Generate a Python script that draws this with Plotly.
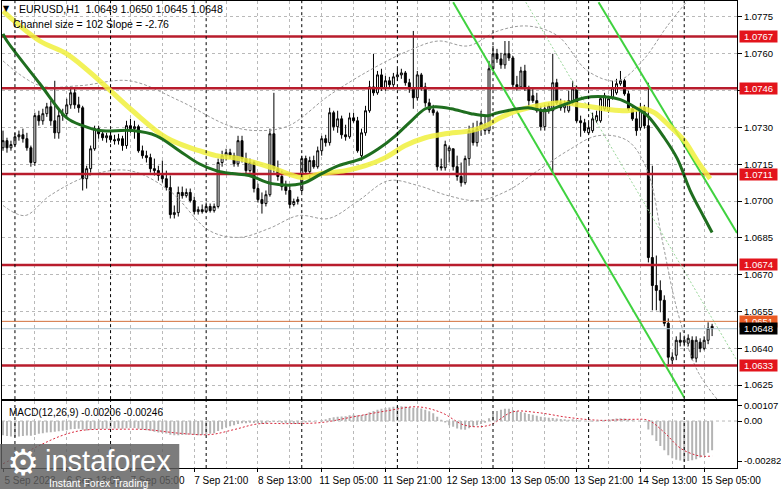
import plotly.graph_objects as go
from plotly.subplots import make_subplots

# ---------------- data ----------------
x_tick_idx = [0, 16, 32, 48, 64, 80, 96, 112, 128, 144, 160, 176]
x_tick_text = ["5 Sep 2023", "6 Sep 13:00", "7 Sep 05:00", "7 Sep 21:00", "8 Sep 13:00",
               "11 Sep 05:00", "11 Sep 21:00", "12 Sep 13:00", "13 Sep 05:00",
               "13 Sep 21:00", "14 Sep 13:00", "15 Sep 05:00"]
grid_idx = list(range(0, 185, 8))
day_start_idx = [3, 27, 51, 75, 99, 123, 147, 171]
price_ticks = [1.0625, 1.0640, 1.0655, 1.0670, 1.0685, 1.0700, 1.0715, 1.0730, 1.0745, 1.0760, 1.0775]

opens = [
    1.07217, 1.07246, 1.07217, 1.07230, 1.07262, 1.07270, 1.07254, 1.07217, 1.07157, 1.07348,
    1.07327, 1.07356, 1.07384, 1.07327, 1.07278, 1.07348, 1.07356, 1.07392, 1.07441, 1.07392,
    1.07380, 1.07091, 1.07132, 1.07213, 1.07295, 1.07274, 1.07258, 1.07266, 1.07250, 1.07246,
    1.07254, 1.07226, 1.07307, 1.07295, 1.07303, 1.07205, 1.07185, 1.07177, 1.07132, 1.07124,
    1.07104, 1.07091, 1.07055, 1.06945, 1.06953, 1.07035, 1.07022, 1.07035, 1.07002, 1.06957,
    1.06965, 1.06957, 1.06978, 1.06961, 1.06978, 1.07157, 1.07185, 1.07197, 1.07185, 1.07152,
    1.07246, 1.07173, 1.07124, 1.07157, 1.07051, 1.07006, 1.06990, 1.07026, 1.07274, 1.07132,
    1.07100, 1.07059, 1.07043, 1.06986, 1.06998, 1.07043, 1.07173, 1.07120, 1.07165, 1.07140,
    1.07205, 1.07254, 1.07238, 1.07360, 1.07303, 1.07335, 1.07270, 1.07262, 1.07339, 1.07327,
    1.07185, 1.07278, 1.07368, 1.07465, 1.07441, 1.07514, 1.07461, 1.07490, 1.07474, 1.07506,
    1.07514, 1.07522, 1.07482, 1.07457, 1.07421, 1.07514, 1.07465, 1.07400, 1.07372, 1.07360,
    1.07140, 1.07136, 1.07205, 1.07213, 1.07140, 1.07100, 1.07075, 1.07173, 1.07287, 1.07238,
    1.07295, 1.07287, 1.07287, 1.07539, 1.07600, 1.07579, 1.07555, 1.07600, 1.07583, 1.07474,
    1.07465, 1.07530, 1.07461, 1.07429, 1.07409, 1.07368, 1.07303, 1.07368, 1.07368, 1.07482,
    1.07400, 1.07380, 1.07368, 1.07400, 1.07457, 1.07327, 1.07319, 1.07278, 1.07287, 1.07327,
    1.07327, 1.07376, 1.07368, 1.07421, 1.07441, 1.07478, 1.07490, 1.07437, 1.07376, 1.07335,
    1.07299, 1.07380, 1.07307, 1.06770, 1.06656, 1.06636, 1.06596, 1.06502, 1.06352, 1.06372,
    1.06433, 1.06425, 1.06421, 1.06433, 1.06360, 1.06425, 1.06400, 1.06433, 1.0649]
highs = [
    1.07287, 1.07258, 1.07246, 1.07278, 1.07287, 1.07295, 1.07278, 1.07226, 1.07360, 1.07368,
    1.07376, 1.07400, 1.07409, 1.07490, 1.07368, 1.07376, 1.07417, 1.07457, 1.07457, 1.07425,
    1.07388, 1.07144, 1.07226, 1.07307, 1.07307, 1.07287, 1.07278, 1.07287, 1.07270, 1.07274,
    1.07266, 1.07327, 1.07335, 1.07327, 1.07311, 1.07226, 1.07205, 1.07193, 1.07173, 1.07144,
    1.07165, 1.07124, 1.07104, 1.06982, 1.07059, 1.07059, 1.07051, 1.07051, 1.07018, 1.06978,
    1.06986, 1.06994, 1.06990, 1.06990, 1.07173, 1.07205, 1.07213, 1.07213, 1.07197, 1.07266,
    1.07266, 1.07197, 1.07173, 1.07165, 1.07071, 1.07035, 1.07043, 1.07295, 1.07441, 1.07165,
    1.07124, 1.07083, 1.07063, 1.07010, 1.07018, 1.07185, 1.07185, 1.07181, 1.07185, 1.07222,
    1.07266, 1.07270, 1.07380, 1.07368, 1.07368, 1.07348, 1.07311, 1.07360, 1.07360, 1.07343,
    1.07295, 1.07388, 1.07490, 1.07600, 1.07530, 1.07539, 1.07510, 1.07506, 1.07522, 1.07539,
    1.07539, 1.07530, 1.07498, 1.07693, 1.07530, 1.07522, 1.07482, 1.07417, 1.07392, 1.07368,
    1.07173, 1.07246, 1.07226, 1.07213, 1.07185, 1.07157, 1.07185, 1.07307, 1.07319, 1.07327,
    1.07368, 1.07348, 1.07571, 1.07632, 1.07620, 1.07604, 1.07652, 1.07652, 1.07591, 1.07510,
    1.07547, 1.07555, 1.07470, 1.07457, 1.07441, 1.07388, 1.07392, 1.07400, 1.07600, 1.07498,
    1.07417, 1.07409, 1.07449, 1.07490, 1.07470, 1.07348, 1.07335, 1.07319, 1.07360, 1.07368,
    1.07425, 1.07441, 1.07429, 1.07490, 1.07498, 1.07530, 1.07498, 1.07449, 1.07388, 1.07368,
    1.07400, 1.07392, 1.07482, 1.07144, 1.06778, 1.06677, 1.06616, 1.06522, 1.06384, 1.06449,
    1.06465, 1.06449, 1.06457, 1.06449, 1.06449, 1.06441, 1.06449, 1.06506, 1.0650]
lows = [
    1.07205, 1.07197, 1.07205, 1.07222, 1.07246, 1.07238, 1.07205, 1.07140, 1.07144, 1.07307,
    1.07311, 1.07343, 1.07307, 1.07254, 1.07254, 1.07327, 1.07335, 1.07376, 1.07376, 1.07360,
    1.07043, 1.07051, 1.07116, 1.07205, 1.07254, 1.07246, 1.07238, 1.07238, 1.07230, 1.07230,
    1.07205, 1.07213, 1.07278, 1.07254, 1.07197, 1.07173, 1.07157, 1.07116, 1.07104, 1.07083,
    1.07075, 1.07043, 1.06929, 1.06929, 1.06937, 1.07010, 1.07014, 1.06994, 1.06945, 1.06945,
    1.06949, 1.06953, 1.06953, 1.06953, 1.06970, 1.07140, 1.07165, 1.07173, 1.07140, 1.07140,
    1.07157, 1.07108, 1.07116, 1.07035, 1.06994, 1.06949, 1.06978, 1.07018, 1.07116, 1.07083,
    1.07043, 1.07026, 1.06970, 1.06978, 1.06986, 1.07035, 1.07108, 1.07091, 1.07132, 1.07132,
    1.07185, 1.07222, 1.07226, 1.07287, 1.07278, 1.07254, 1.07246, 1.07254, 1.07319, 1.07197,
    1.07165, 1.07266, 1.07360, 1.07429, 1.07433, 1.07449, 1.07449, 1.07457, 1.07465, 1.07490,
    1.07498, 1.07470, 1.07441, 1.07376, 1.07409, 1.07449, 1.07384, 1.07360, 1.07348, 1.07124,
    1.07124, 1.07124, 1.07157, 1.07124, 1.07083, 1.07059, 1.07067, 1.07144, 1.07226, 1.07222,
    1.07266, 1.07270, 1.07274, 1.07530, 1.07563, 1.07539, 1.07539, 1.07571, 1.07461, 1.07449,
    1.07457, 1.07449, 1.07376, 1.07400, 1.07360, 1.07287, 1.07287, 1.07356, 1.07116, 1.07392,
    1.07368, 1.07360, 1.07360, 1.07392, 1.07319, 1.07262, 1.07278, 1.07270, 1.07278, 1.07319,
    1.07319, 1.07368, 1.07360, 1.07413, 1.07433, 1.07470, 1.07429, 1.07368, 1.07327, 1.07266,
    1.07287, 1.07295, 1.06750, 1.06555, 1.06555, 1.06547, 1.06490, 1.06335, 1.06335, 1.06352,
    1.06408, 1.06408, 1.06408, 1.06352, 1.06343, 1.06384, 1.06392, 1.06417, 1.0645]
closes = [
    1.07246, 1.07217, 1.07230, 1.07262, 1.07270, 1.07254, 1.07217, 1.07157, 1.07348, 1.07327,
    1.07356, 1.07384, 1.07327, 1.07278, 1.07348, 1.07356, 1.07392, 1.07441, 1.07392, 1.07380,
    1.07091, 1.07132, 1.07213, 1.07295, 1.07274, 1.07258, 1.07266, 1.07250, 1.07246, 1.07254,
    1.07226, 1.07307, 1.07295, 1.07303, 1.07205, 1.07185, 1.07177, 1.07132, 1.07124, 1.07104,
    1.07091, 1.07055, 1.06945, 1.06953, 1.07035, 1.07022, 1.07035, 1.07002, 1.06957, 1.06965,
    1.06957, 1.06978, 1.06961, 1.06978, 1.07157, 1.07185, 1.07197, 1.07185, 1.07152, 1.07246,
    1.07173, 1.07124, 1.07157, 1.07051, 1.07006, 1.06990, 1.07026, 1.07274, 1.07132, 1.07100,
    1.07059, 1.07043, 1.06986, 1.06998, 1.07006, 1.07173, 1.07120, 1.07165, 1.07140, 1.07205,
    1.07254, 1.07238, 1.07360, 1.07303, 1.07335, 1.07270, 1.07262, 1.07339, 1.07327, 1.07205,
    1.07278, 1.07368, 1.07465, 1.07441, 1.07514, 1.07461, 1.07490, 1.07474, 1.07506, 1.07514,
    1.07522, 1.07482, 1.07457, 1.07421, 1.07514, 1.07465, 1.07400, 1.07372, 1.07360, 1.07140,
    1.07136, 1.07230, 1.07217, 1.07140, 1.07100, 1.07075, 1.07173, 1.07287, 1.07238, 1.07295,
    1.07319, 1.07311, 1.07539, 1.07600, 1.07579, 1.07555, 1.07600, 1.07583, 1.07474, 1.07465,
    1.07530, 1.07461, 1.07409, 1.07409, 1.07368, 1.07303, 1.07376, 1.07388, 1.07482, 1.07400,
    1.07380, 1.07392, 1.07409, 1.07457, 1.07327, 1.07319, 1.07287, 1.07299, 1.07335, 1.07348,
    1.07417, 1.07429, 1.07417, 1.07461, 1.07478, 1.07490, 1.07437, 1.07376, 1.07335, 1.07287,
    1.07380, 1.07307, 1.06770, 1.06656, 1.06636, 1.06596, 1.06502, 1.06364, 1.06364, 1.06433,
    1.06425, 1.06433, 1.06441, 1.06360, 1.06433, 1.06400, 1.06433, 1.06482, 1.0648]
bars = list(range(len(closes)))

macd_hist = [
    -0.00100, -0.00105, -0.00108, -0.00110, -0.00108, -0.00105, -0.00102, -0.00104, -0.00098, -0.00090,
    -0.00085, -0.00080, -0.00078, -0.00076, -0.00072, -0.00068, -0.00064, -0.00058, -0.00055, -0.00054,
    -0.00062, -0.00066, -0.00062, -0.00058, -0.00056, -0.00055, -0.00054, -0.00053, -0.00052, -0.00052,
    -0.00054, -0.00050, -0.00048, -0.00048, -0.00054, -0.00060, -0.00064, -0.00070, -0.00075, -0.00080,
    -0.00084, -0.00088, -0.00096, -0.00100, -0.00100, -0.00098, -0.00096, -0.00095, -0.00098, -0.00100,
    -0.00098, -0.00094, -0.00090, -0.00085, -0.00070, -0.00058, -0.00046, -0.00036, -0.00030, -0.00020,
    -0.00016, -0.00016, -0.00012, -0.00014, -0.00018, -0.00020, -0.00018, -0.00008, -0.00006, -0.00008,
    -0.00012, -0.00015, -0.00018, -0.00020, -0.00020, -0.00012, -0.00010, -0.00006, -0.00004, 0.00000,
    0.00008, 0.00012, 0.00022, 0.00026, 0.00030, 0.00032, 0.00034, 0.00040, 0.00044, 0.00040,
    0.00042, 0.00050, 0.00062, 0.00070, 0.00080, 0.00086, 0.00092, 0.00096, 0.00100, 0.00102,
    0.00104, 0.00102, 0.00098, 0.00094, 0.00092, 0.00088, 0.00080, 0.00068, 0.00055, 0.00030,
    0.00010, -0.00010, -0.00030, -0.00040, -0.00052, -0.00060, -0.00062, -0.00050, -0.00040, -0.00030,
    -0.00020, -0.00012, 0.00020, 0.00050, 0.00070, 0.00080, 0.00086, 0.00086, 0.00078, 0.00070,
    0.00064, 0.00058, 0.00050, 0.00045, 0.00038, 0.00030, 0.00026, 0.00024, 0.00022, 0.00018,
    0.00015, 0.00012, 0.00010, 0.00012, 0.00008, 0.00004, 0.00000, -0.00004, -0.00004, -0.00002,
    0.00004, 0.00008, 0.00010, 0.00014, 0.00018, 0.00020, 0.00018, 0.00012, 0.00006, 0.00000,
    0.00000, -0.00004, -0.00060, -0.00100, -0.00140, -0.00175, -0.00205, -0.00240, -0.00262, -0.00272,
    -0.00278, -0.00282, -0.00280, -0.00276, -0.00268, -0.00256, -0.00240, -0.00222, -0.00206]
signal_idx = [0, 5, 10, 15, 20, 28, 36, 44, 52, 58, 64, 72, 80, 88, 96, 104, 110, 116, 122, 128,
              134, 142, 150, 158, 162, 166, 170, 174, 176, 178]
signal_val = [-0.00300, -0.00230, -0.00160, -0.00100, -0.00065, -0.00058, -0.00060, -0.00085, -0.00095,
              -0.00060, -0.00020, -0.00018, -0.00010, 0.00030, 0.00070, 0.00100, 0.00060, -0.00030,
              -0.00030, 0.00065, 0.00060, 0.00025, 0.00005, 0.00012, 0.00005, -0.00080, -0.00190,
              -0.00240, -0.00248, -0.00246]

green_ma_idx = [0, 1, 9.25, 16, 20, 24.25, 32.5, 38.5, 44.25, 49.25, 53.5, 57.5, 61.75, 67.5, 75, 80,
                84.25, 90, 94.25, 98.5, 102.5, 106, 108.5, 112.5, 117.5, 121.75, 124.25, 131.75, 136,
                140, 146, 151, 155, 159.25, 161.75, 166, 169.25, 172.5, 176, 178]
green_ma_val = [1.07681, 1.07652, 1.07478, 1.07339, 1.07307, 1.07287, 1.07287, 1.07266, 1.07205, 1.07152,
                1.07124, 1.07112, 1.07104, 1.07071, 1.07071, 1.07112, 1.07144, 1.07173, 1.07213, 1.07266,
                1.07327, 1.07376, 1.07384, 1.07376, 1.07356, 1.07348, 1.07360, 1.07380, 1.07368, 1.07388,
                1.07421, 1.07425, 1.07413, 1.07376, 1.07348, 1.07258, 1.07173, 1.07043, 1.06933, 1.06872]
yellow_ma_idx = [0, 9.25, 16, 24.25, 32.5, 41, 49.25, 53.5, 59.25, 67.5, 75, 80, 86, 91, 96, 101, 106,
                 111, 117.5, 121.75, 124.25, 129.25, 134.25, 140, 146, 152.5, 156.75, 161, 163.5, 166.75,
                 171, 174.25, 177.5]
yellow_ma_val = [1.07774, 1.07652, 1.07600, 1.07490, 1.07368, 1.07258, 1.07205, 1.07185, 1.07173, 1.07136,
                 1.07096, 1.07112, 1.07124, 1.07144, 1.07177, 1.07226, 1.07258, 1.07274, 1.07287, 1.07311,
                 1.07335, 1.07368, 1.07388, 1.07400, 1.07388, 1.07372, 1.07368, 1.07376, 1.07360, 1.07315,
                 1.07246, 1.07165, 1.07091]
band_up_idx = [0, 9.25, 19.25, 31.75, 44.25, 56.75, 64.25, 71.75, 81.75, 91.75, 101.75, 109.25, 116.75,
               124.25, 131.75, 139.25, 146.75, 154.25, 160.5, 166.75, 171.75]
band_up_val = [1.07571, 1.07470, 1.07470, 1.07490, 1.07409, 1.07307, 1.07287, 1.07307, 1.07429, 1.07530,
               1.07612, 1.07652, 1.07632, 1.07693, 1.07713, 1.07673, 1.07530, 1.07490, 1.07571, 1.07713,
               1.07815]
band_lo_idx = [0, 5.5, 11.75, 21.75, 31.75, 41.75, 51.75, 59.25, 66.75, 74.25, 81.75, 89.25, 96.75,
               104.25, 111.75, 119.25, 126.75, 134.25, 141.75, 149.25, 156.75, 161.75, 165.5, 169.25,
               174.25, 179.25]
band_lo_val = [1.06982, 1.06941, 1.07022, 1.07104, 1.07124, 1.07043, 1.06880, 1.06852, 1.06888, 1.06941,
               1.06929, 1.07002, 1.07083, 1.07063, 1.07022, 1.07002, 1.07043, 1.07124, 1.07205, 1.07266,
               1.07246, 1.07124, 1.06839, 1.06555, 1.06311, 1.06193]

channel_a_idx = [113, 171]
channel_a_val = [1.0781, 1.0620]
channel_b_idx = [149.5, 184.25]
channel_b_val = [1.0781, 1.0687]
channel_mid_idx = [131.25, 184.25]
channel_mid_val = [1.0781, 1.0635]

red_levels = [1.0767, 1.0746, 1.0711, 1.0674, 1.0633]
pending_level = 1.0651
bid_level = 1.0648

FONT = "Liberation Sans"

# ---------------- figure ----------------
fig = make_subplots(rows=2, cols=1, shared_xaxes=True)

GRID = "#b9b9b9"
DASH = "3px,3px"

# bands (thin grey dashed)
for xi, yv in ((band_up_idx, band_up_val), (band_lo_idx, band_lo_val)):
    fig.add_trace(go.Scatter(x=xi, y=yv, mode="lines", line=dict(color="#9a9a9a", width=1, dash="3px,2px"),
                             line_shape="spline", hoverinfo="skip"), row=1, col=1)

# red levels
for lv in red_levels:
    fig.add_trace(go.Scatter(x=[-1, 186], y=[lv, lv], mode="lines",
                             line=dict(color="#b81c2c", width=2.5), hoverinfo="skip"), row=1, col=1)
fig.add_trace(go.Scatter(x=[-1, 186], y=[pending_level] * 2, mode="lines",
                         line=dict(color="#d2703a", width=1), hoverinfo="skip"), row=1, col=1)
fig.add_trace(go.Scatter(x=[-1, 186], y=[bid_level] * 2, mode="lines",
                         line=dict(color="#aac0cc", width=1), hoverinfo="skip"), row=1, col=1)

# channel
fig.add_trace(go.Scatter(x=channel_mid_idx, y=channel_mid_val, mode="lines",
                         line=dict(color="#9ad69a", width=1, dash="2px,2px"), hoverinfo="skip"), row=1, col=1)
for xi, yv in ((channel_a_idx, channel_a_val), (channel_b_idx, channel_b_val)):
    fig.add_trace(go.Scatter(x=xi, y=yv, mode="lines", line=dict(color="#3fd23f", width=2),
                             hoverinfo="skip"), row=1, col=1)

# moving averages
fig.add_trace(go.Scatter(x=yellow_ma_idx, y=yellow_ma_val, mode="lines", line_shape="spline",
                         line=dict(color="rgba(240,240,60,0.85)", width=5), hoverinfo="skip"), row=1, col=1)
fig.add_trace(go.Scatter(x=green_ma_idx, y=green_ma_val, mode="lines", line_shape="spline",
                         line=dict(color="#1f6e1f", width=3), hoverinfo="skip"), row=1, col=1)

# candles
fig.add_trace(go.Candlestick(
    x=bars, open=opens, high=highs, low=lows, close=closes,
    increasing=dict(line=dict(color="black", width=1), fillcolor="white"),
    decreasing=dict(line=dict(color="black", width=1), fillcolor="black"),
    whiskerwidth=0, hoverinfo="skip"), row=1, col=1)

# MACD
fig.add_trace(go.Bar(x=bars, y=macd_hist, marker=dict(color="#b4b4b4", line=dict(width=0)),
                     width=0.5, hoverinfo="skip"), row=2, col=1)
fig.add_trace(go.Scatter(x=signal_idx, y=signal_val, mode="lines", line_shape="spline",
                         line=dict(color="#d8283c", width=1, dash="2px,2px"), hoverinfo="skip"), row=2, col=1)
fig.add_hline(y=0, line=dict(color=GRID, width=1, dash=DASH), row=2, col=1)

# day separators
for d in day_start_idx:
    fig.add_vline(x=d, line=dict(color="black", width=1, dash="3px,3px"), row="all", col=1)

XR = [-0.25, 184.25]
axis_common = dict(showline=True, linecolor="black", linewidth=1, mirror=True,
                   showgrid=True, gridcolor=GRID, griddash=DASH, gridwidth=1, zeroline=False)
fig.update_xaxes(range=XR, tickmode="array", tickvals=grid_idx, ticktext=[""] * len(grid_idx),
                 ticks="", rangeslider=dict(visible=False), **axis_common)
fig.update_xaxes(row=2, col=1, tickvals=x_tick_idx, ticktext=x_tick_text, ticks="outside", ticklen=3,
                 tickcolor="black", ticklabelshift=27, ticklabelstandoff=0,
                 tickfont=dict(family=FONT, size=10, color="black"),
                 minor=dict(tickmode="array", tickvals=grid_idx, showgrid=True, gridcolor=GRID,
                            griddash=DASH, ticks=""))

fig.update_layout(
    width=781, height=489, margin=dict(l=2, r=41, t=0, b=21),
    paper_bgcolor="white", plot_bgcolor="white", showlegend=False, hovermode=False,
    font=dict(family=FONT, size=10, color="black"),
    yaxis=dict(domain=[0.1474, 1.0], range=[1.06193, 1.07815], side="right", tickmode="array",
               tickvals=price_ticks, tickformat=".4f", ticks="outside", ticklen=4, tickcolor="black",
               ticklabelstandoff=0,
               tickfont=dict(family=FONT, size=9.5, color="black"), **axis_common),
    yaxis2=dict(domain=[0.0, 0.1432], range=[-0.0033, 0.0014], side="right", tickmode="array",
                tickvals=[0.00107, 0.0, -0.00282], ticktext=["0.00107", "0.00", "-0.00282"],
                ticks="outside", ticklen=4, tickcolor="black", ticklabelstandoff=0,
                tickfont=dict(family=FONT, size=9.5, color="black"),
                showline=True, linecolor="black", linewidth=1, mirror=True, showgrid=False, zeroline=False),
)

# price boxes on the right
def price_box(level, bg, text_color="white"):
    fig.add_annotation(xref="paper", yref="y", x=1.0, y=level, xanchor="left", yanchor="middle",
                       xshift=2, text=f"{level:.4f}", showarrow=False, bgcolor=bg, width=37, height=11,
                       borderpad=0, font=dict(family=FONT, size=9.5, color=text_color))

for lv in red_levels:
    price_box(lv, "#e3141c")
price_box(pending_level, "#ea5b24")
price_box(bid_level, "#000000")

# header texts
fig.add_annotation(xref="paper", yref="paper", x=0.0068, y=0.985, text="▼", showarrow=False,
                   font=dict(family="DejaVu Sans", size=8, color="black"), xanchor="center", yanchor="middle")
fig.add_annotation(xref="paper", yref="paper", x=0.0203, y=0.983,
                   text="EURUSD,H1  1.0649 1.0650 1.0645 1.0648", showarrow=False,
                   font=dict(family=FONT, size=10.5, color="black"), xanchor="left", yanchor="middle")
fig.add_annotation(xref="paper", yref="paper", x=0.0122, y=0.951,
                   text="Channel size = 102 Slope = -2.76", showarrow=False,
                   font=dict(family=FONT, size=10.5, color="black"), xanchor="left", yanchor="middle")
fig.add_annotation(xref="paper", yref="paper", x=0.0068, y=0.1197,
                   text="MACD(12,26,9) -0.00206 -0.00246", showarrow=False,
                   font=dict(family=FONT, size=10, color="black"), xanchor="left", yanchor="middle")

# watermark logo
fig.add_shape(type="rect", xref="paper", yref="paper", x0=-0.003, x1=0.2412, y0=-0.046, y1=0.0513,
              fillcolor="rgba(95,95,95,0.82)", line=dict(width=0), layer="above")
fig.add_annotation(xref="paper", yref="paper", x=0.0285, y=0.0128, text="⚙", showarrow=False,
                   font=dict(family="DejaVu Sans", size=36, color="white"), xanchor="center", yanchor="middle")
fig.add_annotation(xref="paper", yref="paper", x=0.1436, y=0.015, text="instaforex", showarrow=False,
                   font=dict(family=FONT, size=29, color="white"), xanchor="center", yanchor="middle")
fig.add_annotation(xref="paper", yref="paper", x=0.1314, y=-0.032, text="Instant Forex Trading",
                   showarrow=False, font=dict(family=FONT, size=10.5, color="white"),
                   xanchor="center", yanchor="middle")

fig.write_html("out.html", config={"displayModeBar": False, "staticPlot": True},
               post_script="document.body.style.margin='0';document.body.style.overflow='hidden';")
